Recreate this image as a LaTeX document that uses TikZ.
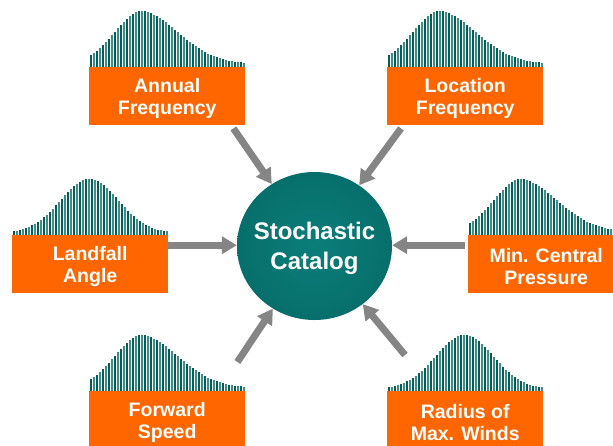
\documentclass[tikz,border=0pt]{standalone}
\usepackage{fontspec}
\setmainfont{Liberation Sans}
\usetikzlibrary{shapes.geometric,arrows.meta,calc}
\definecolor{boxorange}{HTML}{FF6600}
\definecolor{arrowgray}{HTML}{858585}
\definecolor{bardark}{HTML}{035E59}
\definecolor{barlight}{HTML}{3E8E88}
\definecolor{tealin}{HTML}{0B7E7A}
\definecolor{tealmid}{HTML}{066C68}
\definecolor{tealout}{HTML}{005A57}
\pgfdeclareradialshading{tealball}{\pgfpoint{0bp}{0bp}}{color(0bp)=(tealin); color(30bp)=(tealmid); color(50bp)=(tealout)}
\tikzset{
  boxnode/.style={fill=boxorange, draw=none, minimum width=156pt, minimum height=58pt,
    anchor=north west, inner sep=0pt},
  boxtext/.style={text=white, align=center, inner sep=0pt,
    font=\fontsize{19.5}{22.5}\selectfont\bfseries},
  catnode/.style={ellipse, minimum width=155pt, minimum height=148pt, inner sep=0pt,
    shading=tealball, draw=none},
  cattext/.style={text=white, align=center, font=\fontsize{24}{30}\selectfont\bfseries},
  arr/.style={draw=arrowgray, line width=7pt, -{Triangle[width=17pt,length=15pt]}},
  bar/.style={line width=2pt}
}
% #1 left x, #2 baseline y, #3 number of bars, #4 type (0 symmetric, 1 skewed)
\newcommand{\histo}[4]{%
  \foreach \i in {0,...,#3} {
    \pgfmathsetmacro{\xx}{#1+1.5+3*\i}
    \ifnum#4=0
      \pgfmathsetmacro{\hh}{2+54*exp(-0.5*((\xx-#1-77)/29)^2)}
    \else
      \pgfmathsetmacro{\dd}{\xx-#1-53}
      \pgfmathsetmacro{\hh}{\dd<0 ? 2+54*exp(-0.5*(\dd/28)^2) : 2+54*(0.85*exp(-0.5*(\dd/36)^2)+0.15*exp(-\dd/60))}
    \fi
    \ifodd\i\relax\def\bc{barlight}\else\def\bc{bardark}\fi
    \draw[bar, draw=\bc] (\xx,#2) -- (\xx,#2-\hh);
  }%
}
\begin{document}
\begin{tikzpicture}[x=1pt,y=-1pt]
\useasboundingbox (0,0) rectangle (613,445);
\clip (0,0) rectangle (613,445);
% histograms
\histo{89}{67}{51}{1}
\histo{387}{67}{51}{1}
\histo{12}{235}{51}{0}
\histo{468}{235}{51}{1}
\histo{89}{391}{51}{1}
\histo{387}{391}{51}{0}
% boxes
\node[boxnode] (af) at (89,67) {};
\node[boxnode] (lf) at (387,67) {};
\node[boxnode] (la) at (12,235) {};
\node[boxnode] (mc) at (468,235) {};
\node[boxnode] (fs) at (89,391) {};
\node[boxnode] (rw) at (387,391) {};
\node[boxtext] (aft) at ($(af.center)+(0,2.5)$) {Annual\\Frequency};
\node[boxtext] (lft) at ($(lf.center)+(0,2.5)$) {Location\\Frequency};
\node[boxtext] (lat) at ($(la.center)+(0,2.5)$) {Landfall\\Angle};
\node[boxtext] (mct) at ($(mc.center)+(0,2.5)$) {Min. Central\\Pressure};
\node[boxtext] (fst) at ($(fs.center)+(0,2.5)$) {Forward\\Speed};
\node[boxtext] (rwt) at ($(rw.center)+(0,2.5)$) {Radius of\\Max. Winds};
% catalog
\node[catnode] (cat) at (314.5,246) {};
\node[cattext] (catlabel) at ($(cat.center)+(0,2.5)$) {Stochastic\\Catalog};
% arrow starts
\coordinate (s1) at ($(af.south east)+(-12,3)$);
\coordinate (s2) at ($(lf.south west)+(14,3)$);
\coordinate (s3) at ($(la.east)+(0,-19)$);
\coordinate (s4) at ($(mc.west)+(-3,-19)$);
\coordinate (s5) at ($(fs.north east)+(-8,-29)$);
\coordinate (s6) at ($(rw.north west)+(18,-36)$);
\draw[arr] (s1) -- (cat);
\draw[arr] (s2) -- (cat);
\draw[arr] (s3) -- (s3 -| cat.west);
\draw[arr] (s4) -- (s4 -| cat.east);
\draw[arr] (s5) -- (cat);
\draw[arr] (s6) -- (cat);
\end{tikzpicture}
\end{document}
